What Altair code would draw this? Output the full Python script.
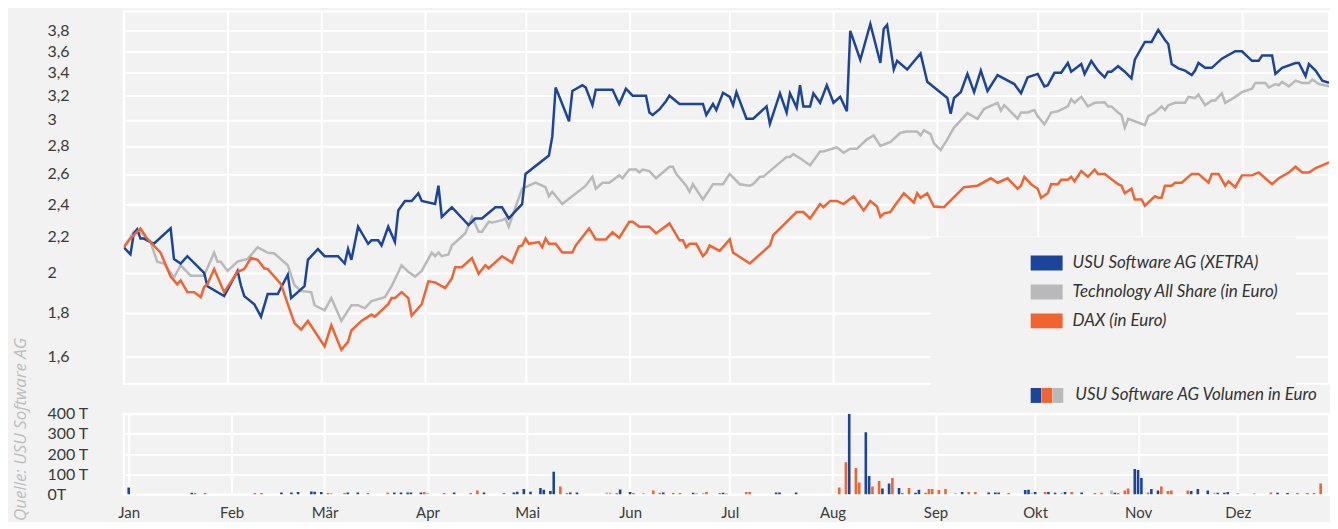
import altair as alt
import pandas as pd

JAHR = "2003"

# ---------- Kursdaten (Tag "MM-TT", Wert) ----------
usu = [("01-01",2.14),("01-03",2.10),("01-04",2.22),("01-05",2.245),("01-06",2.19),("01-07",2.19),("01-10",2.16),
       ("01-15",2.25),("01-16",2.075),("01-18",2.05),("01-20",2.09),("01-25",2.00),("01-26",1.93),("01-31",1.88),
       ("02-04",2.01),("02-05",1.935),("02-06",1.88),("02-09",1.84),("02-11",1.78),("02-13",1.89),("02-16",1.89),
       ("02-19",1.99),("02-20",1.87),("02-22",1.90),("02-24",1.93),("02-25",2.07),("02-28",2.13),
       ("03-02",2.09),("03-06",2.09),("03-08",2.05),("03-09",2.13),("03-10",2.07),("03-12",2.26),("03-15",2.16),
       ("03-16",2.18),("03-18",2.18),("03-19",2.15),("03-21",2.26),("03-23",2.17),("03-24",2.36),("03-26",2.42),
       ("03-28",2.42),("03-30",2.47),("03-31",2.42),
       ("04-04",2.40),("04-05",2.52),("04-06",2.32),("04-09",2.38),("04-14",2.27),("04-16",2.31),("04-18",2.31),
       ("04-22",2.38),("04-24",2.38),("04-26",2.31),("04-28",2.355),("04-30",2.40),
       ("05-01",2.60),("05-08",2.73),("05-09",2.87),("05-10",3.27),("05-11",3.20),("05-14",2.99),("05-15",3.24),
       ("05-18",3.29),("05-19",3.27),("05-21",3.12),("05-22",3.25),("05-27",3.25),("05-29",3.13),("05-31",3.26),
       ("06-02",3.20),("06-06",3.20),("06-07",3.06),("06-08",3.04),("06-10",3.085),("06-12",3.155),("06-13",3.20),
       ("06-16",3.13),("06-23",3.13),("06-24",3.04),("06-26",3.13),("06-27",3.08),("06-29",3.225),
       ("07-01",3.19),("07-02",3.12),("07-03",3.23),("07-06",3.01),("07-08",3.01),("07-12",3.11),("07-13",2.97),
       ("07-16",3.22),("07-18",3.06),("07-19",3.22),("07-21",3.10),("07-22",3.29),("07-23",3.11),("07-25",3.11),
       ("07-26",3.22),("07-28",3.14),("07-30",3.29),
       ("08-01",3.14),("08-03",3.19),("08-05",3.07),("08-06",3.80),("08-09",3.52),("08-12",3.87),("08-15",3.49),
       ("08-16",3.82),("08-17",3.86),("08-19",3.43),("08-20",3.51),("08-23",3.43),("08-27",3.58),("08-29",3.32),
       ("09-04",3.18),("09-05",3.05),("09-06",3.18),("09-08",3.23),("09-10",3.39),("09-12",3.23),("09-14",3.42),
       ("09-16",3.24),("09-19",3.38),("09-24",3.30),("09-26",3.22),("09-28",3.36),
       ("10-01",3.39),("10-03",3.28),("10-04",3.29),("10-06",3.40),("10-08",3.40),("10-10",3.49),("10-11",3.41),
       ("10-14",3.48),("10-15",3.39),("10-17",3.51),("10-19",3.42),("10-21",3.36),("10-22",3.41),("10-23",3.41),
       ("10-25",3.46),("10-27",3.41),("10-29",3.35),("10-30",3.52),
       ("11-02",3.69),("11-04",3.69),("11-06",3.81),("11-08",3.71),("11-09",3.67),("11-10",3.48),("11-12",3.44),
       ("11-14",3.42),("11-16",3.38),("11-17",3.42),("11-18",3.49),("11-20",3.445),("11-22",3.445),("11-25",3.53),
       ("11-29",3.60),
       ("12-01",3.60),("12-04",3.51),("12-06",3.51),("12-07",3.56),("12-10",3.56),("12-11",3.39),("12-13",3.445),
       ("12-17",3.49),("12-18",3.49),("12-20",3.37),("12-21",3.48),("12-23",3.42),("12-25",3.33),("12-27",3.31)]

tech = [("01-01",2.14),("01-04",2.23),("01-06",2.23),("01-09",2.17),("01-11",2.06),("01-13",2.05),("01-16",1.975),
        ("01-18",2.04),("01-21",1.985),("01-25",1.985),("01-28",2.11),("01-29",2.06),("01-30",2.06),("02-01",2.01),
        ("02-04",2.06),("02-07",2.075),("02-10",2.14),("02-13",2.11),("02-15",2.105),("02-19",2.04),("02-21",1.935),
        ("02-23",1.905),("02-26",1.90),("02-27",1.835),
        ("03-02",1.81),("03-04",1.87),("03-07",1.76),("03-10",1.835),("03-12",1.835),("03-14",1.82),("03-16",1.855),
        ("03-20",1.875),("03-22",1.93),("03-25",2.04),("03-27",2.005),("03-29",1.98),("03-31",2.01),
        ("04-03",2.11),("04-04",2.09),("04-05",2.11),("04-06",2.09),("04-08",2.10),("04-09",2.15),("04-13",2.22),
        ("04-15",2.32),("04-17",2.23),("04-18",2.23),("04-20",2.29),("04-21",2.285),("04-24",2.30),("04-25",2.31),
        ("04-26",2.26),("04-28",2.38),("04-30",2.50),
        ("05-04",2.54),("05-07",2.51),("05-08",2.45),("05-09",2.48),("05-12",2.40),("05-19",2.52),("05-21",2.58),
        ("05-22",2.50),("05-24",2.54),("05-26",2.54),("05-29",2.59),("05-30",2.57),
        ("06-01",2.63),("06-03",2.63),("06-04",2.61),("06-05",2.63),("06-07",2.62),("06-09",2.57),("06-13",2.65),
        ("06-14",2.65),("06-15",2.60),("06-18",2.52),("06-19",2.48),("06-20",2.53),("06-23",2.43),("06-26",2.53),
        ("06-29",2.53),
        ("07-01",2.60),("07-04",2.53),("07-07",2.52),("07-08",2.53),("07-10",2.58),("07-11",2.58),("07-15",2.66),
        ("07-18",2.72),("07-19",2.72),("07-20",2.74),("07-22",2.71),("07-25",2.66),("07-28",2.76),("07-29",2.76),
        ("08-02",2.79),("08-04",2.75),("08-06",2.78),("08-08",2.78),("08-11",2.85),("08-13",2.88),("08-15",2.80),
        ("08-18",2.83),("08-21",2.90),("08-23",2.91),("08-26",2.91),("08-27",2.88),("08-28",2.92),("08-30",2.89),
        ("08-31",2.82),
        ("09-02",2.77),("09-04",2.85),("09-06",2.94),("09-10",3.055),("09-13",3.01),("09-15",3.09),("09-19",3.14),
        ("09-20",3.075),("09-21",3.12),("09-25",3.01),("09-26",3.06),("09-28",3.06),("09-30",3.08),
        ("10-01",3.03),("10-03",2.965),("10-04",3.01),("10-05",3.06),("10-07",3.07),("10-10",3.11),("10-11",3.17),
        ("10-12",3.14),("10-14",3.19),("10-16",3.11),("10-18",3.14),("10-21",3.145),("10-22",3.11),("10-23",3.11),
        ("10-25",3.06),("10-26",3.04),("10-27",2.94),("10-28",3.01),("10-31",2.98),
        ("11-02",2.96),("11-03",3.03),("11-05",3.06),("11-07",3.11),("11-08",3.08),("11-09",3.12),("11-11",3.14),
        ("11-14",3.14),("11-15",3.19),("11-17",3.18),("11-18",3.21),("11-20",3.12),("11-22",3.16),("11-23",3.16),
        ("11-25",3.22),("11-26",3.14),("11-29",3.19),
        ("12-01",3.23),("12-04",3.26),("12-05",3.31),("12-08",3.31),("12-09",3.27),("12-11",3.30),("12-12",3.29),
        ("12-13",3.32),("12-15",3.28),("12-17",3.33),("12-19",3.31),("12-21",3.31),("12-22",3.34),("12-24",3.30),
        ("12-27",3.28)]

dax = [("01-01",2.14),("01-03",2.19),("01-06",2.25),("01-08",2.19),("01-12",2.11),("01-15",1.98),("01-17",1.94),
       ("01-18",1.96),("01-20",1.90),("01-22",1.90),("01-24",1.875),("01-25",1.926),("01-26",1.94),("01-28",2.02),
       ("01-31",1.90),
       ("02-04",2.005),("02-06",2.02),("02-08",2.08),("02-10",2.07),("02-12",2.024),("02-13",2.02),("02-15",1.98),
       ("02-17",1.94),("02-19",1.84),("02-21",1.75),("02-23",1.72),("02-25",1.76),
       ("03-02",1.645),("03-04",1.74),("03-07",1.63),("03-09",1.665),("03-10",1.716),("03-13",1.76),("03-16",1.79),
       ("03-17",1.78),("03-21",1.84),("03-22",1.87),("03-23",1.87),("03-25",1.90),("03-27",1.87),("03-28",1.785),
       ("03-31",1.84),
       ("04-02",1.955),("04-04",1.95),("04-07",1.92),("04-09",1.97),("04-10",2.03),("04-12",2.03),("04-15",2.08),
       ("04-17",1.995),("04-19",2.04),("04-20",2.024),("04-24",2.09),("04-27",2.055),("04-29",2.144),("04-30",2.15),
       ("05-01",2.19),("05-02",2.16),("05-05",2.17),("05-06",2.14),("05-07",2.19),("05-08",2.16),("05-10",2.16),
       ("05-12",2.11),("05-15",2.11),("05-16",2.15),("05-20",2.25),("05-22",2.185),("05-25",2.185),("05-27",2.227),
       ("05-29",2.194),
       ("06-01",2.29),("06-02",2.29),("06-04",2.26),("06-07",2.26),("06-09",2.22),("06-13",2.28),("06-16",2.18),
       ("06-17",2.18),("06-18",2.14),("06-19",2.16),("06-21",2.16),("06-23",2.09),("06-24",2.11),("06-25",2.15),
       ("06-28",2.12),
       ("07-01",2.185),("07-02",2.11),("07-07",2.05),("07-13",2.15),("07-14",2.21),("07-21",2.35),("07-23",2.35),
       ("07-25",2.31),("07-28",2.40),("07-29",2.38),("07-31",2.42),
       ("08-02",2.42),("08-04",2.40),("08-07",2.45),("08-10",2.36),("08-12",2.42),("08-14",2.385),("08-15",2.32),
       ("08-16",2.34),("08-18",2.35),("08-20",2.41),("08-22",2.47),("08-25",2.41),("08-26",2.47),("08-27",2.44),
       ("08-29",2.47),("08-31",2.385),
       ("09-03",2.38),("09-09",2.51),("09-13",2.52),("09-17",2.57),("09-19",2.54),("09-22",2.57),("09-25",2.50),
       ("09-26",2.52),("09-27",2.58),("09-29",2.53),
       ("10-01",2.50),("10-02",2.44),("10-04",2.47),("10-05",2.53),("10-07",2.53),("10-08",2.56),("10-10",2.56),
       ("10-11",2.58),("10-12",2.55),("10-14",2.62),("10-16",2.58),("10-18",2.63),("10-19",2.60),("10-21",2.60),
       ("10-25",2.53),("10-26",2.52),("10-27",2.47),("10-29",2.50),("10-30",2.43),
       ("11-01",2.43),("11-02",2.39),("11-05",2.45),("11-06",2.44),("11-07",2.44),("11-08",2.52),("11-10",2.52),
       ("11-11",2.54),("11-13",2.54),("11-16",2.60),("11-18",2.60),("11-21",2.54),("11-22",2.60),("11-24",2.60),
       ("11-26",2.52),("11-27",2.55),("11-29",2.51),
       ("12-01",2.59),("12-04",2.59),("12-06",2.61),("12-10",2.53),("12-12",2.57),("12-15",2.61),("12-17",2.65),
       ("12-19",2.61),("12-21",2.61),("12-23",2.64),("12-25",2.66),("12-27",2.68)]

# ---------- Volumen in Tausend Euro (Tag, Wert, Tendenz) ----------
volumen = [("01-01",34,"s"),("01-20",8,"s"),("01-21",7,"f"),("01-24",7,"f"),("02-08",7,"f"),("02-10",7,"f"),
           ("02-16",10,"s"),("02-19",10,"s"),("02-21",12,"s"),("02-25",15,"s"),("02-26",13,"s"),("02-28",12,"s"),
           ("03-02",7,"f"),("03-03",7,"u"),("03-07",7,"f"),("03-08",10,"s"),("03-11",10,"s"),("03-14",7,"f"),
           ("03-20",8,"f"),("03-22",10,"s"),("03-24",10,"s"),("03-26",10,"s"),("03-27",10,"s"),("03-30",10,"s"),
           ("03-31",12,"f"),("04-01",7,"u"),("04-06",7,"f"),("04-09",10,"s"),("04-14",7,"f"),("04-16",20,"f"),
           ("04-18",10,"s"),("04-24",7,"f"),("04-27",10,"s"),("04-28",13,"s"),("04-30",27,"s"),("05-02",13,"s"),
           ("05-05",32,"s"),("05-06",24,"s"),("05-08",17,"s"),("05-09",113,"s"),("05-11",39,"f"),("05-13",7,"f"),
           ("05-14",10,"s"),("05-16",10,"s"),("05-25",10,"u"),("05-26",10,"u"),("05-28",7,"f"),("05-29",25,"s"),
           ("06-01",12,"s"),("06-02",7,"f"),("06-05",7,"u"),("06-08",20,"f"),("06-10",8,"f"),("06-11",10,"s"),
           ("06-14",7,"f"),("06-16",7,"f"),("06-20",8,"s"),("06-21",7,"u"),("06-23",7,"u"),("06-24",12,"f"),
           ("06-28",7,"f"),("06-29",8,"s"),("06-30",5,"f"),("07-06",12,"f"),("07-07",12,"f"),("07-15",10,"s"),
           ("07-16",10,"s"),("07-21",10,"s"),("08-03",34,"f"),("08-05",160,"f"),("08-06",400,"s"),("08-08",131,"f"),
           ("08-09",59,"f"),("08-11",308,"s"),("08-12",92,"s"),("08-13",39,"f"),("08-15",67,"f"),("08-16",30,"s"),
           ("08-18",54,"s"),("08-19",81,"f"),("08-21",32,"s"),("08-22",7,"f"),("08-24",32,"f"),("08-26",8,"s"),
           ("08-27",24,"s"),("08-29",8,"f"),("08-30",27,"f"),("08-31",27,"f"),("09-02",22,"f"),("09-04",27,"f"),
           ("09-07",7,"u"),("09-09",12,"s"),("09-11",12,"f"),("09-13",12,"f"),("09-17",10,"s"),("09-19",10,"s"),
           ("09-20",10,"s"),("09-23",7,"f"),("09-28",22,"s"),("09-29",24,"s"),("09-30",8,"u"),("10-01",12,"s"),
           ("10-04",12,"f"),("10-05",12,"s"),("10-07",8,"s"),("10-09",8,"u"),("10-10",12,"s"),("10-12",12,"f"),
           ("10-15",10,"s"),("10-19",7,"f"),("10-21",8,"f"),("10-24",20,"u"),("10-25",8,"s"),("10-26",7,"f"),
           ("10-28",20,"f"),("10-29",30,"f"),("10-31",126,"s"),("11-01",121,"s"),("11-02",81,"s"),("11-04",10,"f"),
           ("11-05",27,"s"),("11-07",20,"s"),("11-08",40,"f"),("11-10",17,"f"),("11-11",20,"f"),("11-16",20,"f"),
           ("11-17",17,"s"),("11-19",27,"s"),("11-22",20,"s"),("11-24",8,"u"),("11-25",8,"s"),("11-27",8,"s"),
           ("11-28",12,"s"),("12-01",7,"u"),("12-06",7,"u"),("12-11",10,"f"),("12-13",8,"s"),("12-16",7,"s"),
           ("12-19",7,"f"),("12-22",7,"f"),("12-24",7,"f"),("12-26",54,"f")]

reihen = ["USU Software AG (XETRA)", "Technology All Share (in Euro)", "DAX (in Euro)"]
reihen_farben = ["#1b459b", "#b9b9bb", "#f16330"]
zeichenfolge = ["Technology All Share (in Euro)", "USU Software AG (XETRA)", "DAX (in Euro)"]

tendenz_codes = {"s": "steigend", "f": "fallend", "u": "unverändert"}
tendenzen = ["steigend", "fallend", "unverändert"]
tendenz_farben = ["#1b459b", "#f16330", "#b9b9bb"]

monatsnamen = ["Jan", "Feb", "Mär", "Apr", "Mai", "Jun", "Jul", "Aug", "Sep", "Okt", "Nov", "Dez"]
kurs_ticks = [1.6, 1.8, 2.0, 2.2, 2.4, 2.6, 2.8, 3.0, 3.2, 3.4, 3.6, 3.8]
volumen_ticks = [0, 100, 200, 300, 400]

# ---------- Tabellen ----------
zeilen = []
for name, serie in zip(reihen, [usu, tech, dax]):
    for tag, wert in serie:
        zeilen.append({"Datum": f"{JAHR}-{tag}", "Wert": wert, "Reihe": name})
kurse = pd.DataFrame(zeilen)

vol = pd.DataFrame([{"Datum": f"{JAHR}-{t}", "Volumen": v, "Tendenz": tendenz_codes[c]} for t, v, c in volumen])

# ---------- Stil ----------
BG = "#f2f2f2"
FONT = "Lato"
TXT = "#3a3a3a"
BLANK = "\u2800"   # sichtbarer Leerraum, wird nicht abgeschnitten

monats_werte = [alt.DateTime(year=int(JAHR), month=m, date=1, utc=True) for m in range(1, 13)]
x_scale = alt.Scale(type="utc", nice=False,
                    domain=[alt.DateTime(year=int(JAHR), month=1, date=1, utc=True),
                            alt.DateTime(year=int(JAHR), month=12, date=27, utc=True)])
monat_expr = "[" + ",".join(f"'{m}'" for m in monatsnamen) + "][utcmonth(datum.value)]"

grid = dict(grid=True, gridColor="white", gridWidth=2, ticks=False, domain=False,
            labelFlush=False, labelOverlap=False)

# Legendensymbol: gefülltes Rechteck 32x15 aus dicht gesetzten Strichen
streifen = "".join(f"M-2.1333,{y}H2.1333" for y in (-0.8, -0.48, -0.16, 0.16, 0.48, 0.8))

# ---------- Kurs-Chart ----------
x_top = alt.X("Datum:T", scale=x_scale, title=None,
              axis=alt.Axis(values=monats_werte, labels=False, **grid))
y_top = alt.Y("Wert:Q", title=None,
              scale=alt.Scale(type="log", domain=[1.49, 4.0], nice=False),
              axis=alt.Axis(values=kurs_ticks, labelAlign="left", labelPadding=77,
                            labelExpr="replace(format(datum.value, '.1~f'), '.', ',')",
                            labelFont=FONT, labelFontSize=16, labelColor=TXT, **grid))
legende_kurse = alt.Legend(
    orient="none", legendX=809, legendY=226, fillColor=BG, padding=17,
    # unsichtbarer Titel (Hintergrundfarbe) verbreitert und verlängert die Legendenfläche
    title="0" * 36, titleOrient="bottom", titleFontSize=17, titlePadding=24, titleColor=BG,
    titleFont=FONT,
    symbolType=streifen, symbolSize=225, symbolStrokeWidth=3,
    symbolOffset=90, labelOffset=17, rowPadding=5,
    labelFont=FONT, labelFontSize=17, labelFontStyle="italic", labelColor="#333333", labelLimit=400)
c_top = alt.Color("Reihe:N", scale=alt.Scale(domain=reihen, range=reihen_farben), legend=legende_kurse)

linien = [
    alt.Chart(kurse).transform_filter(alt.datum.Reihe == r).mark_line(clip=True).encode(
        x=x_top, y=y_top, color=c_top, strokeWidth=alt.value(2.5))
    for r in zeichenfolge
]
oben = alt.layer(*linien).properties(width=1208, height=373)

# ---------- Volumen-Chart ----------
legende_vol = alt.Legend(
    orient="none", legendX=909, legendY=-27, direction="horizontal", columns=3,
    columnPadding=0, padding=0, title=None,
    symbolType="M-1,-0.88H0.255V0.88H-1Z", symbolSize=289, symbolStrokeWidth=0,
    labelOffset=alt.ExprRef(expr="-6.33"),
    labelExpr=f"datum.value == 'unverändert' ? '{BLANK}USU Software AG Volumen in Euro' : ''",
    labelFont=FONT, labelFontSize=17, labelFontStyle="italic", labelColor="#333333", labelLimit=400)

unten = alt.Chart(vol).mark_bar(size=2.6, clip=True).encode(
    x=alt.X("Datum:T", scale=x_scale, title=None,
            axis=alt.Axis(values=monats_werte, labelExpr=monat_expr, labelPadding=11,
                          labelFont=FONT, labelFontSize=15, labelColor=TXT, **grid)),
    y=alt.Y("Volumen:Q", scale=alt.Scale(domain=[0, 400], nice=False),
            axis=alt.Axis(values=volumen_ticks, labelAlign="left", labelPadding=77,
                          labelExpr="datum.value == 0 ? '0T' : datum.value + ' T'",
                          labelFont=FONT, labelFontSize=16, labelColor=TXT,
                          title="Quelle: USU Software AG", titleAngle=270, titleAlign="left",
                          titleBaseline="alphabetic", titleX=-98, titleY=107,
                          titleFont="Open Sans", titleFontStyle="italic", titleFontWeight="normal",
                          titleFontSize=17, titleColor="#bcbcbc", **grid)),
    color=alt.Color("Tendenz:N", scale=alt.Scale(domain=tendenzen, range=tendenz_farben), legend=legende_vol),
).properties(width=1208, height=81)

chart = alt.vconcat(oben, unten, spacing=30, bounds="flush").resolve_scale(
    color="independent", y="independent"
).resolve_legend(color="independent").properties(
    padding={"left": 2, "top": 2, "right": 0, "bottom": 0}
).configure(background=BG).configure_view(stroke="white", strokeWidth=2)

chart.save("out.html", embed_options={"renderer": "svg", "actions": False})
